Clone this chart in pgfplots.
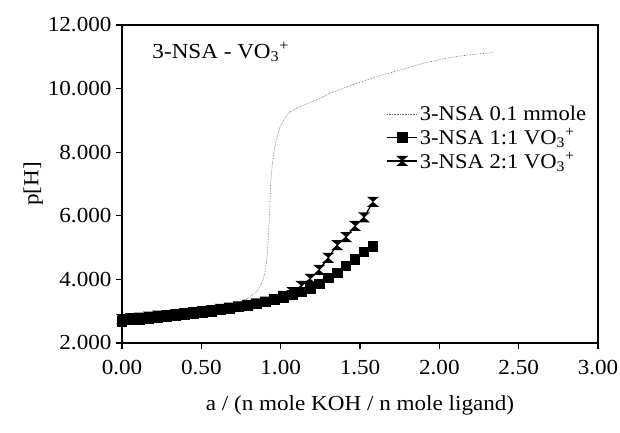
\documentclass[border=0pt]{standalone}
\usepackage{fontspec}
\setmainfont[FakeStretch=1.08]{Liberation Serif}
\usepackage{pgfplots}
\pgfplotsset{compat=1.18}
\usetikzlibrary{calc}
\pgfdeclareplotmark{hourglass}{%
 \pgfpathmoveto{\pgfqpoint{-1.2\pgfplotmarksize}{\pgfplotmarksize}}%
 \pgfpathlineto{\pgfqpoint{1.2\pgfplotmarksize}{\pgfplotmarksize}}%
 \pgfpathlineto{\pgfqpoint{-1.2\pgfplotmarksize}{-\pgfplotmarksize}}%
 \pgfpathlineto{\pgfqpoint{1.2\pgfplotmarksize}{-\pgfplotmarksize}}%
 \pgfpathclose
 \pgfusepathqfill}
\newcommand{\bigf}{\fontsize{21.5}{24}\selectfont}
\newcommand{\legf}{\fontsize{21}{22}\selectfont}
\begin{document}
\begin{tikzpicture}
\begin{axis}[name=ax, scale only axis, width=476bp, height=318bp,
 xmin=0, xmax=3, ymin=2, ymax=12,
 xtick={0,0.5,1,1.5,2,2.5,3}, ytick={2,4,6,8,10,12},
 tick align=outside, xtick pos=bottom, ytick pos=left,
 major tick length=6bp,
 axis line style={line width=1.2bp},
 every tick/.style={line width=1.2bp, black},
 /pgf/number format/assume math mode=true,
 xticklabel style={font=\bigf, yshift=-8bp, /pgf/number format/.cd, fixed, fixed zerofill, precision=2},
 yticklabel style={font=\bigf, xshift=-1bp, /pgf/number format/.cd, fixed, fixed zerofill, precision=3},
 label style={font=\bigf},
 xlabel={a / (n mole KOH / n mole ligand)},
 xlabel style={yshift=-14bp},
 ylabel={p[H]},
 ylabel style={yshift=-2bp},
 legend style={draw=none, fill=none, font=\legf, at={(axis cs:1.66,9.55)}, anchor=north west, row sep=2.5bp, inner sep=1bp},
 legend cell align=left,
 legend image code/.code={\draw[#1] (0bp,0bp) -- (30bp,0bp); \path[#1] plot coordinates {(15bp,0bp)};},
]
\addplot[densely dotted, black!60, line width=0.6bp] coordinates {
(0,2.72) (0.1,2.78) (0.2,2.85) (0.3,2.9) (0.4,2.96) (0.5,3.02) (0.6,3.08) (0.7,3.2) (0.74,3.28) (0.78,3.36) (0.81,3.46) (0.84,3.58) (0.87,3.77) (0.89,4.0) (0.90,4.19) (0.91,4.5) (0.916,4.82) (0.922,5.3) (0.928,5.87) (0.933,6.5) (0.937,7.02) (0.945,7.5) (0.953,7.85) (0.97,8.35) (0.996,8.8) (1.03,9.1) (1.06,9.27) (1.12,9.43) (1.2,9.6) (1.27,9.75) (1.31,9.85) (1.44,10.1) (1.6,10.37) (1.75,10.58) (1.9,10.8) (2.07,10.98) (2.2,11.07) (2.34,11.13)
};
\addlegendentry{3-NSA 0.1 mmole}
\addplot[black, line width=1.3bp, mark=square*, mark size=4.7bp] coordinates {
(0,2.68) (0.0565,2.72) (0.113,2.75) (0.1695,2.78) (0.226,2.81) (0.2825,2.84) (0.339,2.87) (0.3955,2.9) (0.452,2.93) (0.5085,2.97) (0.565,3.0) (0.6215,3.04) (0.678,3.08) (0.7345,3.13) (0.791,3.18) (0.8475,3.23) (0.904,3.29) (0.9605,3.36) (1.017,3.43) (1.0735,3.51) (1.13,3.6) (1.1865,3.72) (1.243,3.86) (1.2995,4.04) (1.356,4.2) (1.4125,4.42) (1.469,4.62) (1.5255,4.86) (1.582,5.03)
};
\addlegendentry{3-NSA 1:1 VO\textsubscript{3}\textsuperscript{+}}
\addplot[black, line width=1.3bp, mark=hourglass, mark size=5bp] coordinates {
(0,2.75) (0.0565,2.78) (0.113,2.8) (0.1695,2.83) (0.226,2.86) (0.2825,2.88) (0.339,2.91) (0.3955,2.94) (0.452,2.97) (0.5085,3.0) (0.565,3.03) (0.6215,3.07) (0.678,3.11) (0.7345,3.15) (0.791,3.2) (0.8475,3.25) (0.904,3.3) (0.9605,3.38) (1.017,3.48) (1.0735,3.6) (1.13,3.8) (1.1865,4.02) (1.243,4.3) (1.2995,4.68) (1.356,5.08) (1.4125,5.33) (1.469,5.68) (1.5255,5.95) (1.582,6.44)
};
\addlegendentry{3-NSA 2:1 VO\textsubscript{3}\textsuperscript{+}}
\node[anchor=west, font=\bigf] at (axis cs:0.17,11.15) {3-NSA - VO\textsubscript{3}\textsuperscript{+}};
\end{axis}
\pgfresetboundingbox
\path ($(ax.south west)+(-122bp,-90bp)$) rectangle ($(ax.north east)+(22bp,25bp)$);
\end{tikzpicture}
\end{document}
